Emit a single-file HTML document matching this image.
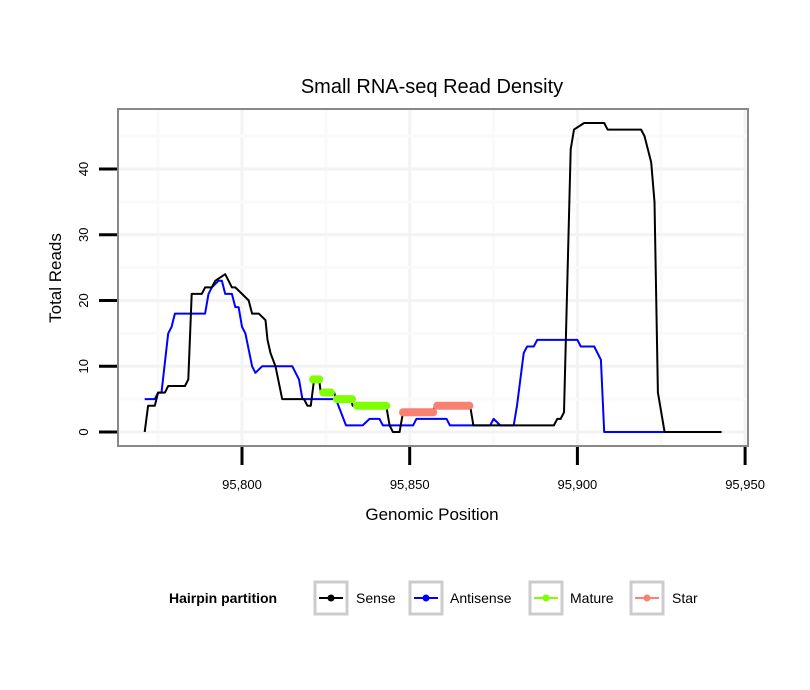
<!DOCTYPE html>
<html><head><meta charset="utf-8"><style>
body{margin:0;background:#fff;font-family:"Liberation Sans",sans-serif}
svg{display:block}
</style></head><body>
<svg id="chart" width="810" height="690" viewBox="0 0 810 690" xmlns="http://www.w3.org/2000/svg">
<text x="432" y="93" font-size="20" text-anchor="middle">Small RNA-seq Read Density</text>
<rect x="118" y="109" width="630" height="337" fill="#fff" stroke="#888" stroke-width="2"/>
<g id="grid"></g>
<g id="series"></g>
<g id="axes"></g>
<text x="432" y="520" font-size="17" text-anchor="middle">Genomic Position</text>
<text transform="translate(61,278) rotate(-90)" font-size="17" text-anchor="middle">Total Reads</text>
<g font-size="14">
<text x="169" y="603" font-weight="bold">Hairpin partition</text>
<g><rect x="315" y="582" width="32" height="32" fill="#fff" stroke="#ccc" stroke-width="3"/><line x1="319" y1="598" x2="343" y2="598" stroke="#000" stroke-width="2"/><circle cx="331" cy="598" r="3.5" fill="#000"/><text x="356" y="603">Sense</text></g>
<g><rect x="410" y="582" width="32" height="32" fill="#fff" stroke="#ccc" stroke-width="3"/><line x1="414" y1="598" x2="438" y2="598" stroke="#00f" stroke-width="2"/><circle cx="426" cy="598" r="3.5" fill="#00f"/><text x="450" y="603">Antisense</text></g>
<g><rect x="530" y="582" width="32" height="32" fill="#fff" stroke="#ccc" stroke-width="3"/><line x1="534" y1="598" x2="558" y2="598" stroke="#7fff00" stroke-width="2"/><circle cx="546" cy="598" r="3.5" fill="#7fff00"/><text x="570" y="603">Mature</text></g>
<g><rect x="631" y="582" width="32" height="32" fill="#fff" stroke="#ccc" stroke-width="3"/><line x1="635" y1="598" x2="659" y2="598" stroke="#fa8072" stroke-width="2"/><circle cx="647" cy="598" r="3.5" fill="#fa8072"/><text x="672" y="603">Star</text></g>
</g>
</svg>
<script>
const xTicks=[95800,95850,95900,95950];
const xTickLabels=["95,800","95,850","95,900","95,950"];
const yTicks=[0,10,20,30,40];
const sensePos=[95771,95772,95774,95775,95777,95778,95783,95784,95785,95788,95789,95791,95792,95795,95796,95797,95798,95800,95802,95803,95804,95805,95807,95807.6,95808.5,95810,95812,95813.5,95818.5,95819.5,95820.5,95821.5,95823,95823.5,95827.5,95828,95832.5,95833,95843,95844,95845,95847,95848,95857,95857.5,95868,95869,95893,95894,95895,95896,95898,95899,95902,95908,95909,95919,95920,95922,95923,95924,95926,95943];
const senseVal=[0,4,4,6,6,7,7,8,21,21,22,22,23,24,23,22,22,21,20,18,18,18,17,14,12,10,5,5,5,4,4,8,8,6,6,5,5,4,4,1,0,0,3,3,4,4,1,1,2,2,3,43,46,47,47,46,46,45,41,35,6,0,0];
const antiPos=[95771,95774,95775,95776,95778,95779,95780,95789,95790,95791,95793,95794,95795,95797,95798,95799,95800,95801,95803,95804,95806,95815,95817,95818,95828,95831,95836,95838,95841,95842,95851,95852,95861,95862,95874,95875,95877,95881,95882,95884,95885,95887,95888,95900,95901,95905,95907,95908,95926];
const antiVal=[5,5,6,6,15,16,18,18,21,22,23,23,21,21,19,19,16,15,10,9,10,10,8,5,5,1,1,2,2,1,1,2,2,1,1,2,1,1,4,12,13,13,14,14,13,13,11,0,0];
const matureStart=[95821.2,95824.2,95828.3,95834.3];
const matureEnd=[95823,95826.5,95832.8,95843];
const matureVal=[8,6,5,4];
const starStart=[95848,95858.2];
const starEnd=[95857,95867.8];
const starVal=[3,4];
const NS="http://www.w3.org/2000/svg";
function sx(v){return 242+(v-95800)*3.354;}
function sy(v){return 432-v*6.575;}
function mk(t,a,p){const e=document.createElementNS(NS,t);for(const k in a)e.setAttribute(k,a[k]);p.appendChild(e);return e;}
const grid=document.getElementById('grid'),axes=document.getElementById('axes'),ser=document.getElementById('series');
[95775,95825,95875,95925].forEach(v=>{const l=mk('line',{x1:sx(v),x2:sx(v),y1:110,y2:445,stroke:'#fafafa','stroke-width':3},grid);});
xTicks.forEach(v=>{if(sx(v)<747){const l=mk('line',{x1:sx(v),x2:sx(v),y1:110,y2:445,stroke:'#f3f3f3','stroke-width':3},grid);}});
[5,15,25,35,45].forEach(v=>{const l=mk('line',{x1:119,x2:747,y1:sy(v),y2:sy(v),stroke:'#fafafa','stroke-width':3},grid);});
yTicks.forEach(v=>{const l=mk('line',{x1:119,x2:747,y1:sy(v),y2:sy(v),stroke:'#f3f3f3','stroke-width':3},grid);});
xTicks.forEach((v,i)=>{
 const t=mk('line',{x1:sx(v),x2:sx(v),y1:447,y2:465,stroke:'#000','stroke-width':3},axes);
 
 
 const tx=mk('text',{x:sx(v),y:489,'font-size':13,'text-anchor':'middle'},axes);tx.textContent=xTickLabels[i];
 
 
});
yTicks.forEach(v=>{
 const t=mk('line',{x1:99,x2:117,y1:sy(v),y2:sy(v),stroke:'#000','stroke-width':3},axes);
 
 
 const tx=mk('text',{transform:`translate(88,${sy(v)}) rotate(-90)`,'font-size':13,'text-anchor':'middle'},axes);tx.textContent=String(v);
 
 
});
function path(xs,ys,col,name){const d=xs.map((x,i)=>(i?'L':'M')+sx(x).toFixed(1)+','+sy(ys[i]).toFixed(1)).join('');const p=mk('path',{d:d,fill:'none',stroke:col,'stroke-width':2,'stroke-linejoin':'round'},ser);}
path(antiPos,antiVal,'#0000ff','antisense-line');
path(sensePos,senseVal,'#000000','sense-line');
function segs(s,e,v,col,name){s.forEach((x,i)=>{const l=mk('line',{x1:sx(x),x2:sx(e[i]),y1:sy(v[i]),y2:sy(v[i]),stroke:col,'stroke-width':8,'stroke-linecap':'round'},ser);});}
segs(matureStart,matureEnd,matureVal,'#7fff00','mature-segment');
segs(starStart,starEnd,starVal,'#fa8072','star-segment');
</script>
</body></html>
